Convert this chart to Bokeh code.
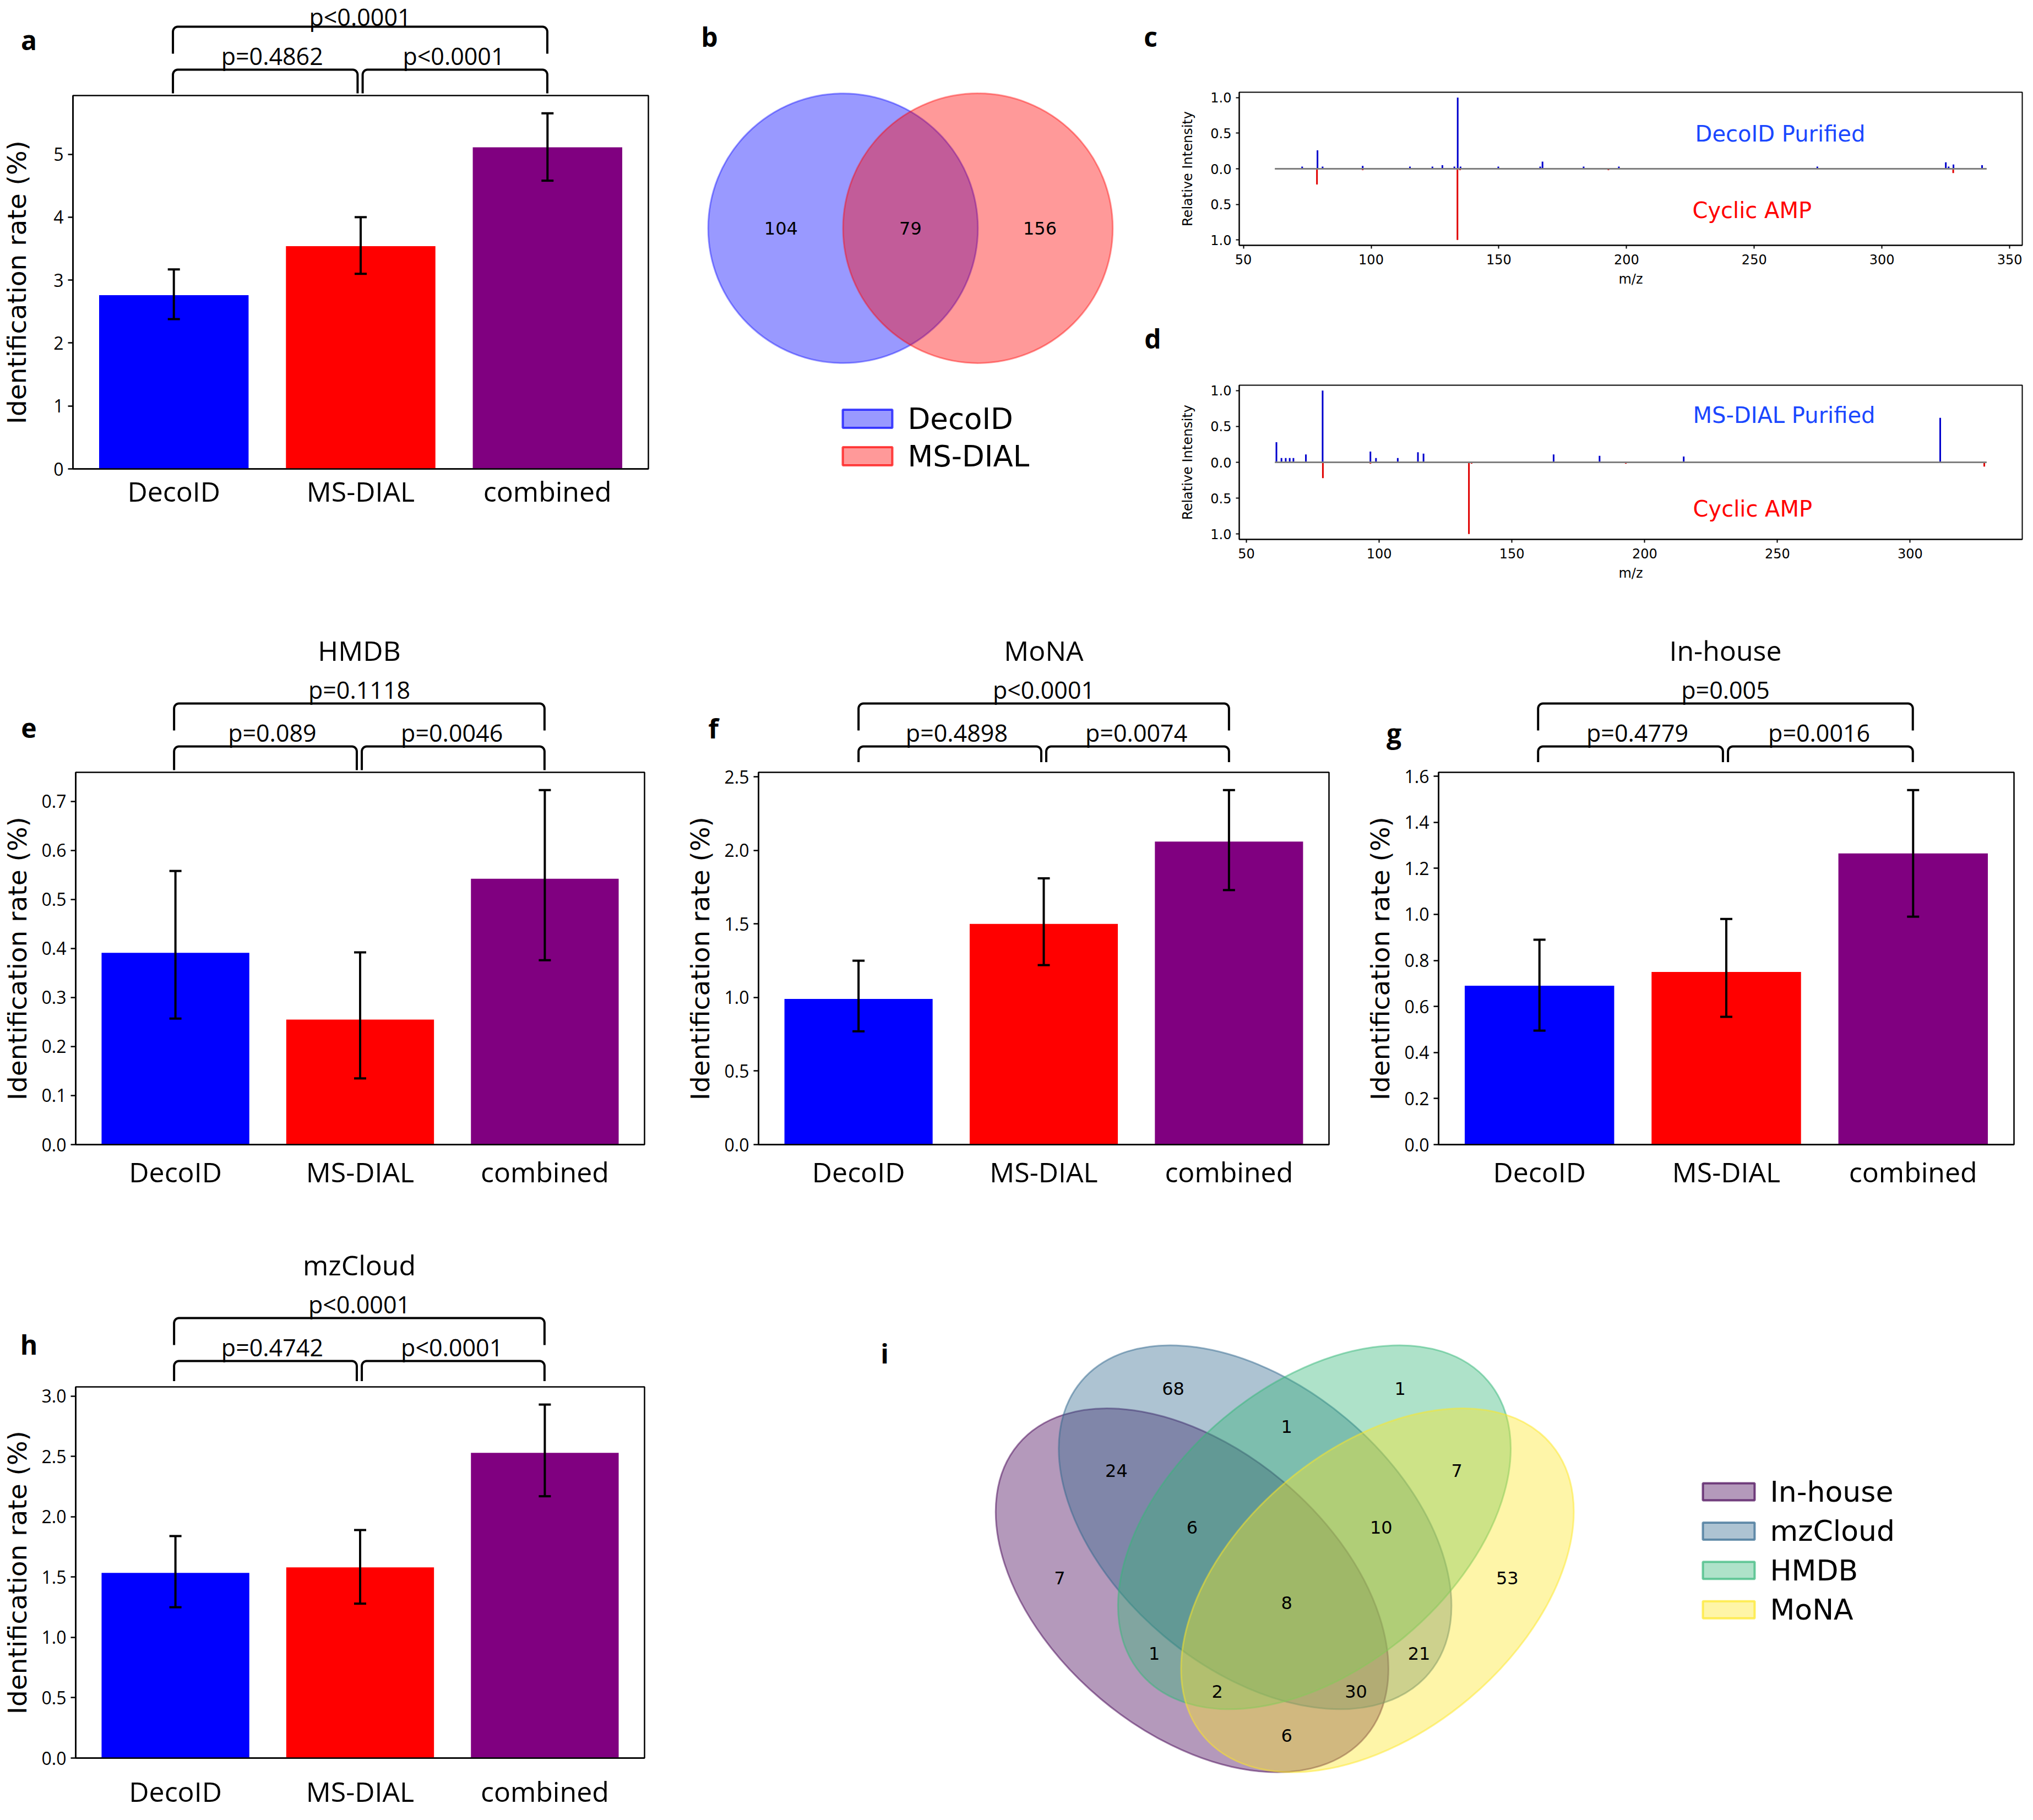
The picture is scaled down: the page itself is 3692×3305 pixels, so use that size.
import numpy as np
from bokeh.plotting import figure
from bokeh.layouts import row, column
from bokeh.models import (Range1d, FixedTicker, PrintfTickFormatter, Whisker,
                          ColumnDataSource, TeeHead)
from bokeh.core.properties import value
from bokeh.embed import file_html
from bokeh.resources import INLINE

# ------------------------------------------------------------------ data
categories = ["DecoID", "MS-DIAL", "combined"]
bar_colors = ["#0000ff", "#ff0000", "#800080"]

overall_mean = [2.76, 3.54, 5.11]
overall_low = [2.38, 3.10, 4.58]
overall_high = [3.17, 4.00, 5.65]
overall_p = ["p=0.4862", "p<0.0001", "p<0.0001"]
overall_ticks = [0, 1, 2, 3, 4, 5]

hmdb_mean = [0.391, 0.255, 0.542]
hmdb_low = [0.257, 0.135, 0.376]
hmdb_high = [0.558, 0.392, 0.723]
hmdb_p = ["p=0.089", "p=0.0046", "p=0.1118"]
hmdb_ticks = [0.0, 0.1, 0.2, 0.3, 0.4, 0.5, 0.6, 0.7]

mona_mean = [0.99, 1.50, 2.06]
mona_low = [0.77, 1.22, 1.73]
mona_high = [1.25, 1.81, 2.41]
mona_p = ["p=0.4898", "p=0.0074", "p<0.0001"]
mona_ticks = [0.0, 0.5, 1.0, 1.5, 2.0, 2.5]

inhouse_mean = [0.69, 0.75, 1.265]
inhouse_low = [0.495, 0.555, 0.99]
inhouse_high = [0.89, 0.98, 1.54]
inhouse_p = ["p=0.4779", "p=0.0016", "p=0.005"]
inhouse_ticks = [0.0, 0.2, 0.4, 0.6, 0.8, 1.0, 1.2, 1.4, 1.6]

mzcloud_mean = [1.535, 1.58, 2.53]
mzcloud_low = [1.25, 1.28, 2.17]
mzcloud_high = [1.84, 1.89, 2.93]
mzcloud_p = ["p=0.4742", "p<0.0001", "p<0.0001"]
mzcloud_ticks = [0.0, 0.5, 1.0, 1.5, 2.0, 2.5, 3.0]

# spectra (m/z, relative intensity)
decoid_mz = [73.0, 79.0, 81.0, 96.7, 115.2, 124.0, 127.9, 132.6, 133.9, 135.0,
             149.8, 166.2, 167.1, 183.2, 197.0, 274.7, 325.0, 326.1, 328.0, 339.2]
decoid_int = [0.03, 0.26, 0.03, 0.04, 0.03, 0.03, 0.05, 0.03, 1.0, 0.03,
              0.03, 0.03, 0.10, 0.03, 0.03, 0.03, 0.09, 0.03, 0.06, 0.05]
msdial_mz = [61.3, 63.2, 64.8, 66.3, 67.7, 72.4, 78.7, 96.7, 98.8, 107.0,
             114.6, 116.7, 165.7, 183.0, 214.7, 311.3]
msdial_int = [0.28, 0.06, 0.06, 0.06, 0.06, 0.11, 1.0, 0.15, 0.06, 0.06,
              0.14, 0.12, 0.11, 0.09, 0.08, 0.62]
camp_mz = [78.8, 96.7, 133.8, 134.8, 192.9, 327.9]
camp_int = [0.22, 0.02, 1.0, 0.02, 0.02, 0.06]
c_span = [62.3, 341.0]
d_span = [60.7, 328.8]
c_xticks = [50, 100, 150, 200, 250, 300, 350]
d_xticks = [50, 100, 150, 200, 250, 300]
ri_ticks = [-1.0, -0.5, 0.0, 0.5, 1.0]
ri_labels = ["1.0", "0.5", "0.0", "0.5", "1.0"]

# venn diagrams
venn2_names = ["DecoID", "MS-DIAL"]
venn2_colors = ["#0000ff", "#ff0000"]
venn2_regions = ["10", "11", "01"]
venn2_counts = [104, 79, 156]

venn4_names = ["In-house", "mzCloud", "HMDB", "MoNA"]
venn4_colors = ["#440154", "#31688e", "#35b779", "#fde725"]
venn4_regions = ["1000", "0100", "0010", "0001", "1100", "1010", "1001", "0110",
                 "0101", "0011", "1110", "1101", "1011", "0111", "1111"]
venn4_counts = [7, 68, 1, 53, 24, 1, 6, 1, 21, 7, 6, 30, 2, 10, 8]

# ------------------------------------------------------------------ helpers
FONT = "Open Sans"
DJ = "DejaVu Sans"


def iso(p):
    # wrap a figure so that Bokeh does not align its frame with siblings
    return column(p)


def blank(width, height, xr, yr):
    p = figure(width=width, height=height, x_range=xr, y_range=yr,
               x_axis_type=None, y_axis_type=None, toolbar_location=None,
               output_backend="svg", min_border=0)
    p.outline_line_color = None
    return p


def bracket_path(xa, xb, yl, ye, rx, ry, n=7):
    t = np.linspace(0, np.pi / 2, n)
    lx = xa + rx * (1 - np.cos(t))
    ly = yl + ry * (1 - np.sin(t))
    rxs = xb - rx + rx * np.sin(t)
    rys = yl + ry * (1 - np.cos(t))
    xs = [xa] + list(lx) + list(rxs) + [xb]
    ys = [ye] + list(ly) + list(rys) + [ye]
    return xs, ys


def bar_panel(letter, letter_xy, title, means, lows, highs, pvals, yticks, fmt,
              col_w, row_h, frame_left, frame_w, frame_top, frame_h,
              cat_standoff, ylab_standoff, bar_top=2, top_text_off=150):
    n = len(categories)
    xs = list(range(n))
    bw = 0.8
    lo, hi = -bw / 2, n - 1 + bw / 2
    pad = 0.05 * (hi - lo)
    x0, x1 = lo - pad, hi + pad
    ymax = max(highs) * 1.05
    ppu = frame_w / (x1 - x0)

    # strip above the frame: title, significance brackets, panel letter
    bh = frame_top - bar_top
    top = blank(col_w, bh,
                Range1d(x0 - frame_left / ppu, x0 + (col_w - frame_left) / ppu),
                Range1d(bh, 0))
    F = frame_top
    g = 0.0135
    end_low = max(F - 5, bh - 2)
    rx, ry = 9 / ppu, 9
    paths = [bracket_path(xs[0], xs[1] - g, F - 47, end_low, rx, ry),
             bracket_path(xs[1] + g, xs[2], F - 47, end_low, rx, ry),
             bracket_path(xs[0], xs[2], F - 125, F - 76, rx, ry)]
    top.multi_line(xs=[p[0] for p in paths], ys=[p[1] for p in paths],
                   line_color="black", line_width=4, line_join="round")
    top.text(x=[0.53, 1.5, 1.0], y=[F - 72, F - 72, F - top_text_off], text=pvals,
             text_font=value(FONT), text_font_size="43px", text_color="black",
             text_align="center", text_baseline="middle")
    if title:
        top.text(x=[1.0], y=[F - 222], text=[title], text_font=value(FONT),
                 text_font_size="50px", text_color="black",
                 text_align="center", text_baseline="middle")
    top.text(x=[x0 + (letter_xy[0] - frame_left) / ppu], y=[letter_xy[1]],
             text=[letter], text_font=value(FONT), text_font_style="bold",
             text_font_size="48px", text_color="black",
             text_align="center", text_baseline="middle")

    # bar chart
    h = row_h - bh
    p = figure(width=col_w, height=h, x_range=Range1d(x0, x1),
               y_range=Range1d(0, ymax), toolbar_location=None,
               output_backend="svg", min_border_left=frame_left,
               min_border_right=col_w - frame_left - frame_w,
               min_border_top=bar_top, min_border_bottom=h - bar_top - frame_h)
    p.vbar(x=xs, top=means, width=bw, fill_color=bar_colors, line_color=None)
    src = ColumnDataSource(dict(x=xs, lower=lows, upper=highs))
    p.add_layout(Whisker(source=src, base="x", lower="lower", upper="upper",
                         line_color="black", line_width=4, level="overlay",
                         upper_head=TeeHead(size=22, line_width=4, line_color="black"),
                         lower_head=TeeHead(size=22, line_width=4, line_color="black")))
    p.xgrid.visible = False
    p.ygrid.visible = False
    p.outline_line_color = "black"
    p.outline_line_width = 2.5
    xa = p.xaxis[0]
    xa.ticker = FixedTicker(ticks=xs)
    xa.major_label_overrides = {i: c for i, c in enumerate(categories)}
    xa.major_tick_out = 0
    xa.major_tick_in = 0
    xa.minor_tick_out = 0
    xa.minor_tick_in = 0
    xa.axis_line_width = 2.5
    xa.major_label_text_font = FONT
    xa.major_label_text_font_size = "50px"
    xa.major_label_text_color = "black"
    xa.major_label_standoff = cat_standoff
    ya = p.yaxis[0]
    ya.ticker = FixedTicker(ticks=yticks)
    ya.formatter = PrintfTickFormatter(format=fmt)
    ya.major_tick_out = 9
    ya.major_tick_in = 0
    ya.minor_tick_out = 0
    ya.minor_tick_in = 0
    ya.major_tick_line_width = 2.5
    ya.axis_line_width = 2.5
    ya.major_label_text_font = FONT
    ya.major_label_text_font_size = "32px"
    ya.major_label_text_color = "black"
    ya.major_label_standoff = 8
    ya.axis_label = "Identification rate (%)"
    ya.axis_label_text_font = DJ
    ya.axis_label_text_font_size = "47px"
    ya.axis_label_text_font_style = "normal"
    ya.axis_label_text_color = "black"
    ya.axis_label_standoff = ylab_standoff
    return column(iso(top), iso(p))


def spectrum(width, height, mt, frame_h, ml, frame_w, mz, inten, span, xticks,
             top_text, top_xy, bot_xy):
    pad = 0.05 * (span[1] - span[0])
    p = figure(width=width, height=height,
               x_range=Range1d(span[0] - pad, span[1] + pad),
               y_range=Range1d(-1.075, 1.075), toolbar_location=None,
               output_backend="svg", min_border_left=ml,
               min_border_right=width - ml - frame_w, min_border_top=mt,
               min_border_bottom=height - mt - frame_h)
    p.segment(x0=mz, y0=0, x1=mz, y1=inten, line_color="#0000cd", line_width=3)
    p.segment(x0=camp_mz, y0=0, x1=camp_mz, y1=[-v for v in camp_int],
              line_color="#e00000", line_width=3)
    p.line(x=span, y=[0, 0], line_color="#7f7f7f", line_width=3)
    p.text(x=[top_xy[0]], y=[top_xy[1]], text=[top_text], text_color="#1a47ff",
           text_font=value(DJ), text_font_size="40px", text_align="left",
           text_baseline="middle")
    p.text(x=[bot_xy[0]], y=[bot_xy[1]], text=["Cyclic AMP"], text_color="#ff0000",
           text_font=value(DJ), text_font_size="40px", text_align="left",
           text_baseline="middle")
    p.xgrid.visible = False
    p.ygrid.visible = False
    p.outline_line_color = "black"
    p.outline_line_width = 2
    xa = p.xaxis[0]
    ya = p.yaxis[0]
    xa.ticker = FixedTicker(ticks=xticks)
    ya.ticker = FixedTicker(ticks=ri_ticks)
    ya.major_label_overrides = dict(zip(ri_ticks, ri_labels))
    for ax in (xa, ya):
        ax.major_tick_out = 6
        ax.major_tick_in = 0
        ax.minor_tick_out = 0
        ax.minor_tick_in = 0
        ax.major_tick_line_width = 2
        ax.axis_line_width = 2
        ax.major_label_text_font = DJ
        ax.major_label_text_font_size = "24px"
        ax.major_label_text_color = "black"
        ax.axis_label_text_font = DJ
        ax.axis_label_text_font_size = "24px"
        ax.axis_label_text_font_style = "normal"
        ax.axis_label_text_color = "black"
    xa.major_label_standoff = 10
    xa.axis_label_standoff = 10
    xa.axis_label = "m/z"
    ya.major_label_standoff = 8
    ya.axis_label_standoff = 24
    ya.axis_label = "Relative Intensity"
    return p


def letter_text(p, xs, ys, letters):
    p.text(x=xs, y=ys, text=letters, text_font=value(FONT), text_font_style="bold",
           text_font_size="48px", text_color="black", text_align="center",
           text_baseline="middle")


# ------------------------------------------------------------------ row 1
SA = 8   # vertical shift of panel a content (px)
S1 = 2   # vertical shift of panels b, c, d content (px)
panel_a = bar_panel("a", (52, 64 + SA), None, overall_mean, overall_low, overall_high,
                    overall_p, overall_ticks, "%d", 1240, 1100, 130, 1047, 165 + SA,
                    678, 6, 36, top_text_off=143)

# venn b (pyvenn venn2 geometry, unit -> pixels)
UB = 979.6
BX0, BY0 = 1530.5 - 0.375 * UB, 412 + S1 + 0.3 * UB
BCOL_X, BCOL_W, ROW1_H = 1240, 900, 1100


def bux(px):
    return (px - BX0) / UB


def buy(py):
    return (BY0 - py) / UB


venn2_centers_x = [0.375, 0.625]
venn2_centers_y = [0.3, 0.3]
venn2_text_x = {"10": 0.26, "11": 0.50, "01": 0.74}
vb = blank(BCOL_W, ROW1_H, Range1d(bux(BCOL_X), bux(BCOL_X + BCOL_W)),
           Range1d(buy(ROW1_H), buy(0)))
vb.ellipse(x=venn2_centers_x, y=venn2_centers_y, width=0.5, height=0.5,
           fill_color=venn2_colors, fill_alpha=0.4, line_color=venn2_colors,
           line_alpha=0.4, line_width=3)
vb.text(x=[venn2_text_x[r] for r in venn2_regions], y=[0.30] * 3,
        text=[str(c) for c in venn2_counts], text_font=value(DJ),
        text_font_size="32px", text_color="black", text_align="center",
        text_baseline="middle")
leg_y = [buy(758 + S1 + 68 * k) for k in range(len(venn2_names))]
vb.rect(x=[bux(1575)] * len(venn2_names), y=leg_y, width=90 / UB, height=33 / UB,
        fill_color=venn2_colors, fill_alpha=0.4, line_color=venn2_colors,
        line_alpha=0.7, line_width=4)
vb.text(x=[bux(1648)] * len(venn2_names), y=leg_y, text=venn2_names,
        text_font=value(DJ), text_font_size="53px", text_color="black",
        text_align="left", text_baseline="middle")
letter_text(vb, [bux(1288), bux(2089), bux(2093)],
            [buy(64 + S1), buy(64 + S1), buy(612 + S1)], ["b", "c", "d"])

panel_c = spectrum(1536, 560, 165 + S1, 278, 109, 1423, decoid_mz, decoid_int,
                   c_span, c_xticks, "DecoID Purified", (226.9, 0.494),
                   (225.8, -0.585))
panel_d = spectrum(1536, 540, 137 + S1, 280, 109, 1423, msdial_mz, msdial_int,
                   d_span, d_xticks, "MS-DIAL Purified", (218.2, 0.657),
                   (218.2, -0.65))

row1 = row(panel_a, iso(vb), column(iso(panel_c), iso(panel_d)))

# ------------------------------------------------------------------ row 2
panel_e = bar_panel("e", (52, 222), "HMDB", hmdb_mean, hmdb_low, hmdb_high, hmdb_p,
                    hmdb_ticks, "%.1f", 1236, 1116, 134, 1036, 302, 676, 15, 14)
panel_f = bar_panel("f", (59, 222), "MoNA", mona_mean, mona_low, mona_high, mona_p,
                    mona_ticks, "%.1f", 1239, 1116, 141, 1036, 302, 676, 15, 14,
                    bar_top=18)
panel_g = bar_panel("g", (56, 231), "In-house", inhouse_mean, inhouse_low,
                    inhouse_high, inhouse_p, inhouse_ticks, "%.1f", 1201, 1116,
                    134, 1048, 302, 676, 15, 14, bar_top=18)
row2 = row(panel_e, panel_f, panel_g)

# ------------------------------------------------------------------ row 3
panel_h = bar_panel("h", (52, 225), "mzCloud", mzcloud_mean, mzcloud_low,
                    mzcloud_high, mzcloud_p, mzcloud_ticks, "%.1f", 1255, 1073,
                    134, 1036, 302, 676, 26, 14, bar_top=10)

# venn i (pyvenn venn4 geometry, unit -> pixels)
UI = 1145.0
IX0, IY0 = 1763.6, 3349.4
ICOL_X, ICOL_W, ROW3_TOP, ROW3_H = 1255, 2421, 2220, 1073


def iux(px):
    return (px - IX0) / UI


def iuy(py):
    return (IY0 - py) / UI


venn4_ex = [0.350, 0.450, 0.544, 0.644]
venn4_ey = [0.400, 0.500, 0.500, 0.400]
venn4_angle = [140.0, 140.0, 40.0, 40.0]
venn4_text_pos = {
    "0001": (0.85, 0.42), "0010": (0.68, 0.72), "0011": (0.77, 0.59),
    "0100": (0.32, 0.72), "0101": (0.71, 0.30), "0110": (0.50, 0.66),
    "0111": (0.65, 0.50), "1000": (0.14, 0.42), "1001": (0.50, 0.17),
    "1010": (0.29, 0.30), "1011": (0.39, 0.24), "1100": (0.23, 0.59),
    "1101": (0.61, 0.24), "1110": (0.35, 0.50), "1111": (0.50, 0.38)}

vi = blank(ICOL_W, ROW3_H, Range1d(iux(ICOL_X), iux(ICOL_X + ICOL_W)),
           Range1d(iuy(ROW3_TOP + ROW3_H), iuy(ROW3_TOP)))
vi.ellipse(x=venn4_ex, y=venn4_ey, width=0.72, height=0.45, angle=venn4_angle,
           angle_units="deg", fill_color=venn4_colors, fill_alpha=0.4,
           line_color=venn4_colors, line_alpha=0.5, line_width=3)
vi.text(x=[venn4_text_pos[r][0] for r in venn4_regions],
        y=[venn4_text_pos[r][1] for r in venn4_regions],
        text=[str(c) for c in venn4_counts], text_font=value(DJ),
        text_font_size="32px", text_color="black", text_align="center",
        text_baseline="middle")
leg4_y = [iuy(2712.5 + 71.4 * k) for k in range(len(venn4_names))]
vi.rect(x=[iux(3139)] * 4, y=leg4_y, width=94 / UI, height=31 / UI,
        fill_color=venn4_colors, fill_alpha=0.4, line_color=venn4_colors,
        line_alpha=0.7, line_width=4)
vi.text(x=[iux(3214)] * 4, y=leg4_y, text=venn4_names, text_font=value(DJ),
        text_font_size="52px", text_color="black", text_align="left",
        text_baseline="middle")
letter_text(vi, [iux(1606)], [iuy(2461)], ["i"])

row3 = row(panel_h, iso(vi))

layout = column(row1, row2, row3)

with open("out.html", "w") as f:
    f.write(file_html(layout, INLINE))
